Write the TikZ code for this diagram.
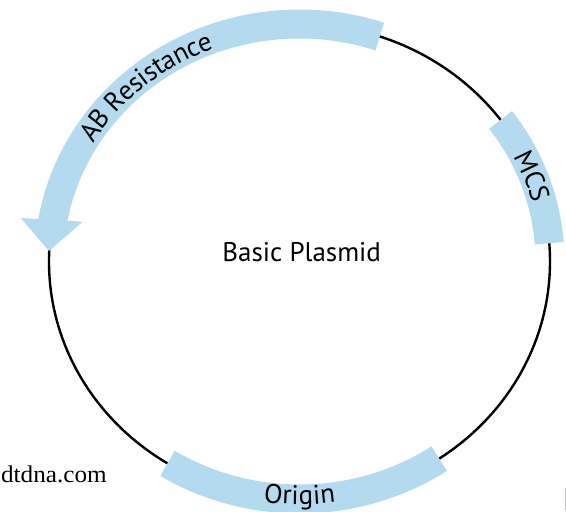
\documentclass[tikz,border=0pt]{standalone}
\usepackage{fontspec}
\setmainfont{PT Sans}
\newfontfamily\serifwm{Liberation Serif}
\usetikzlibrary{decorations.text}
\definecolor{bandblue}{RGB}{180,218,240}
\newcommand{\lblfont}{\fontsize{27}{32}\selectfont}
\begin{document}
\begin{tikzpicture}[x=1pt,y=1pt,
  band/.style={draw=bandblue,line width=29pt},
  bandtext/.style 2 args={decorate,decoration={text along path,text align=center,raise=#2,text={#1}}}]
\useasboundingbox (0,0) rectangle (566,512);
\coordinate (C) at (299.5,250.5);
\begin{scope}[shift={(C)}]
  % backbone
  \draw[line width=2.4pt] (0,0) ellipse [x radius=250.5, y radius=237.5];
  % AB resistance shaft
  \draw[band] (71.3:250.5 and 237.5) arc[start angle=71.3, end angle=172, x radius=250.5, y radius=237.5];
  % MCS
  \draw[band] (36.6:250.5 and 237.5) arc[start angle=36.6, end angle=4.4, x radius=250.5, y radius=237.5];
  % Origin
  \draw[band] (238.2:250.5 and 237.5) arc[start angle=238.2, end angle=303.9, x radius=250.5, y radius=237.5];
  % labels along the bands
  \path[bandtext={|\lblfont|AB Resistance}{-9.5pt}] (162:250.5 and 237.5) arc[start angle=162, end angle=98, x radius=250.5, y radius=237.5];
  \path[bandtext={|\lblfont|MCS}{-9.5pt}] (40:250.5 and 237.5) arc[start angle=40, end angle=2, x radius=250.5, y radius=237.5];
  \path[bandtext={|\lblfont|Origin}{-5.5pt}] (250:250.5 and 237.5) arc[start angle=250, end angle=290, x radius=250.5, y radius=237.5];
\end{scope}
% arrow head of AB resistance
\coordinate (hl) at (20.7,294);
\coordinate (hr) at (82.7,290.3);
\coordinate (ht) at (49,261);
\fill[bandblue] (hl) -- (hr) -- (ht) -- cycle;
% centre title
\node[font=\lblfont, anchor=base, inner sep=0] (title) at (301.7,250.3) {Basic Plasmid};
% cropped watermark
\node[font=\serifwm\fontsize{24}{28}\selectfont, anchor=base east, inner sep=0, xscale=1.05] (wm) at (107,29) {dtdna.com};
\fill[gray!45] (564.5,2) rectangle (566,24);
\end{tikzpicture}
\end{document}
